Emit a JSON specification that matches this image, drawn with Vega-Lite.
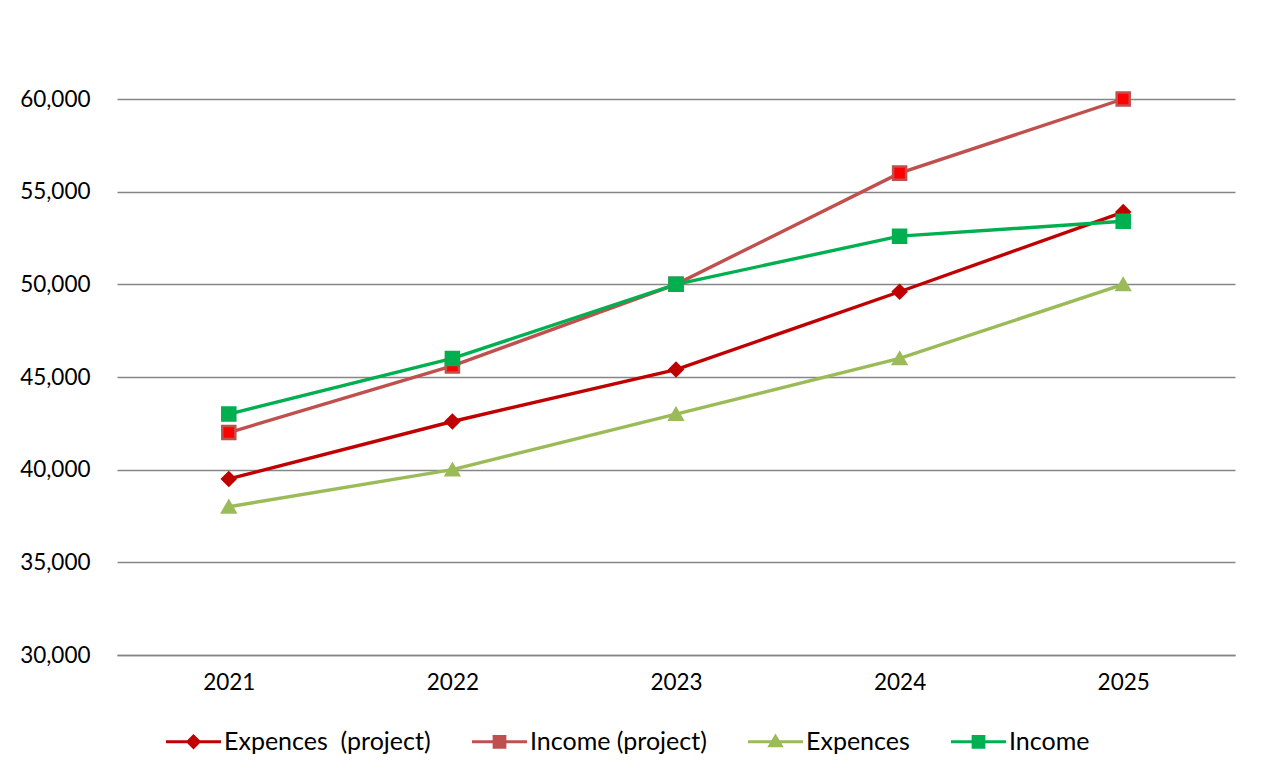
{
  "$schema": "https://vega.github.io/schema/vega-lite/v6.json",
  "width": 1118,
  "height": 556,
  "autosize": {"type": "none"},
  "padding": {"left": 117, "top": 99, "right": 29, "bottom": 126},
  "background": "white",
  "config": {
    "view": {"stroke": null},
    "font": "Lato",
    "axis": {"labelFont": "Lato", "labelColor": "#000000", "labelFontSize": 22.5},
    "legend": {"labelFont": "Lato", "labelColor": "#000000", "labelFontSize": 25, "labelLimit": 400}
  },
  "resolve": {
    "legend": {"shape": "independent", "fill": "independent", "stroke": "independent", "color": "independent"},
    "scale": {"shape": "independent", "fill": "independent", "stroke": "independent"}
  },
  "data": {
    "values": [
      {"year": "2021", "series": "Expences  (project)", "value": 39500},
      {"year": "2022", "series": "Expences  (project)", "value": 42600},
      {"year": "2023", "series": "Expences  (project)", "value": 45400},
      {"year": "2024", "series": "Expences  (project)", "value": 49600},
      {"year": "2025", "series": "Expences  (project)", "value": 53900},
      {"year": "2021", "series": "Income (project)", "value": 42000},
      {"year": "2022", "series": "Income (project)", "value": 45600},
      {"year": "2023", "series": "Income (project)", "value": 50000},
      {"year": "2024", "series": "Income (project)", "value": 56000},
      {"year": "2025", "series": "Income (project)", "value": 60000},
      {"year": "2021", "series": "Expences", "value": 38000},
      {"year": "2022", "series": "Expences", "value": 40000},
      {"year": "2023", "series": "Expences", "value": 43000},
      {"year": "2024", "series": "Expences", "value": 46000},
      {"year": "2025", "series": "Expences", "value": 50000},
      {"year": "2021", "series": "Income", "value": 43000},
      {"year": "2022", "series": "Income", "value": 46000},
      {"year": "2023", "series": "Income", "value": 50000},
      {"year": "2024", "series": "Income", "value": 52600},
      {"year": "2025", "series": "Income", "value": 53400}
    ]
  },
  "encoding": {
    "x": {
      "field": "year", "type": "ordinal",
      "scale": {"type": "point", "padding": 0.5},
      "axis": {"title": null, "labelAngle": 0, "ticks": false, "domain": true, "domainColor": "#868686", "domainWidth": 1.5, "labelPadding": 16, "grid": false}
    },
    "y": {
      "field": "value", "type": "quantitative",
      "scale": {"domain": [30000, 60000], "nice": false, "zero": false},
      "axis": {"title": null, "values": [30000, 35000, 40000, 45000, 50000, 55000, 60000], "format": ",d", "ticks": false, "domain": false, "grid": true, "gridColor": "#868686", "gridWidth": 1.5, "labelPadding": 27}
    }
  },
  "layer": [
    {
      "mark": {"type": "line", "strokeWidth": 3.4},
      "encoding": {
        "color": {
          "field": "series", "type": "nominal",
          "scale": {
            "domain": ["Expences  (project)", "Income (project)", "Expences", "Income"],
            "range": ["#C00000", "#C0504D", "#9BBB59", "#00B050"]
          },
          "sort": null,
          "legend": {
            "title": null,
            "orient": "none",
            "direction": "horizontal",
            "legendX": 49,
            "legendY": 615,
            "symbolSize": 3025,
            "labelOffset": 3,
            "columnPadding": 41,
            "labelExpr": "replace(datum.label, '  ', ' \u00a0')",
            "encode": {
              "symbols": {
                "update": {
                  "shape": {"signal": "datum.value === 'Expences  (project)' ? 'M-1,-0.055H1V0.055H-1Z M0,-0.28L0.28,0L0,0.28L-0.28,0Z' : datum.value === 'Expences' ? 'M-1,-0.055H1V0.055H-1Z M0,-0.3L0.3,0.2L-0.3,0.2Z' : 'M-1,-0.055H1V0.055H-1Z M-0.25,-0.25H0.25V0.25H-0.25Z'"},
                  "fill": {"scale": "color", "field": "value"},
                  "strokeWidth": {"value": 0}
                }
              }
            }
          }
        }
      }
    },
    {
      "mark": {"type": "point", "filled": true, "strokeWidth": 2.5, "opacity": 1},
      "encoding": {
        "shape": {
          "field": "series", "type": "nominal",
          "scale": {
            "domain": ["Expences  (project)", "Income (project)", "Expences", "Income"],
            "range": ["diamond", "square", "triangle-up", "square"]
          },
          "legend": null
        },
        "fill": {
          "field": "series", "type": "nominal",
          "scale": {
            "domain": ["Expences  (project)", "Income (project)", "Expences", "Income"],
            "range": ["#C00000", "#FF0000", "#9BBB59", "#00B050"]
          },
          "legend": null
        },
        "stroke": {
          "field": "series", "type": "nominal",
          "scale": {
            "domain": ["Expences  (project)", "Income (project)", "Expences", "Income"],
            "range": ["#C00000", "#C0504D", "#9BBB59", "#00B050"]
          },
          "legend": null
        },
        "size": {"value": 170}
      }
    }
  ]
}
